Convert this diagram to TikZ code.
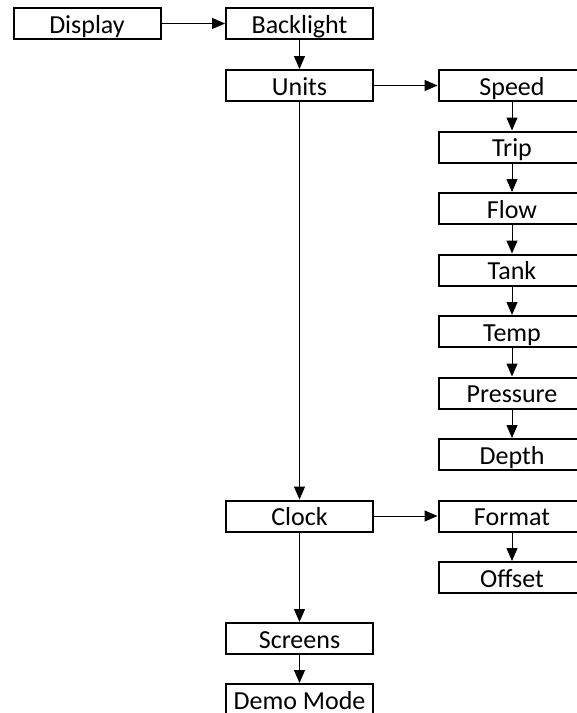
\documentclass[tikz,border=0pt]{standalone}
\usepackage{fontspec}
\setmainfont{Carlito}
\usetikzlibrary{arrows.meta}
\begin{document}
\begin{tikzpicture}[x=1pt,y=-1pt,
  box/.style={draw, line width=2pt, minimum width=147pt, minimum height=31pt,
    inner sep=0pt, text height=19pt, text depth=0pt,
    font=\fontsize{26}{26}\selectfont},
  link/.style={line width=1pt, -{Triangle[length=13pt,width=11pt]}}]
\useasboundingbox (0,0) rectangle (577,713);
\clip (0,0) rectangle (577,713);
% menu entries
\node[box] (display)   at (87,23.5)    {Display};
\node[box] (backlight) at (299.5,23.5) {Backlight};
\node[box] (units)     at (299.5,85.5) {Units};
\node[box] (speed)     at (512,85.5)   {Speed};
\node[box] (trip)      at (512,147)    {Trip};
\node[box] (flow)      at (512,208.5)  {Flow};
\node[box] (tank)      at (512,270)    {Tank};
\node[box] (temp)      at (512,331.5)  {Temp};
\node[box] (pressure)  at (512,393)    {Pressure};
\node[box] (depth)     at (512,454.5)  {Depth};
\node[box] (clock)     at (299.5,516)  {Clock};
\node[box] (format)    at (512,516)    {Format};
\node[box] (offset)    at (512,577.5)  {Offset};
\node[box] (screens)   at (299.5,638.5){Screens};
\node[box] (demo)      at (299.5,699.5){Demo Mode};
% connections
\draw[link] (display) -- (backlight);
\draw[link] (backlight) -- (units);
\draw[link] (units) -- (speed);
\draw[link] (speed) -- (trip);
\draw[link] (trip) -- (flow);
\draw[link] (flow) -- (tank);
\draw[link] (tank) -- (temp);
\draw[link] (temp) -- (pressure);
\draw[link] (pressure) -- (depth);
\draw[link] (units) -- (clock);
\draw[link] (clock) -- (format);
\draw[link] (format) -- (offset);
\draw[link] (clock) -- (screens);
\draw[link] (screens) -- (demo);
\end{tikzpicture}
\end{document}
